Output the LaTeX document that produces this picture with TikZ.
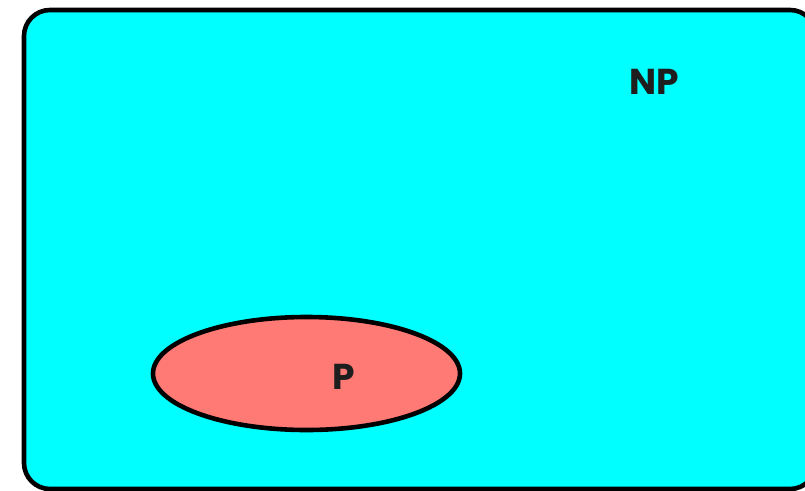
\documentclass[tikz,border=0pt]{standalone}
\usepackage{fontspec}
\usetikzlibrary{shapes.geometric}
\setmainfont{Poppins}
\definecolor{boxfill}{HTML}{00FFFF}
\definecolor{pfill}{HTML}{FF7A75}
\definecolor{txt}{HTML}{1E1E1E}
\tikzset{
  shapeline/.style={draw=black, line width=4.6pt},
  lbl/.style={text=txt, font=\fontsize{36}{38}\selectfont\bfseries, inner sep=0pt}
}
\begin{document}
\begin{tikzpicture}[x=1pt,y=-1pt]
\useasboundingbox (0,0) rectangle (805,490);
\draw[shapeline, fill=boxfill, rounded corners=26pt] (24,10) rectangle (816,489);
\node[shapeline, fill=pfill, ellipse, minimum width=307pt, minimum height=113pt, inner sep=0pt] (p) at (306.5,373.5) {};
\node[lbl] (nplabel) at (654,82) {NP};
\node[lbl] (plabel) at (344,377) {P};
\end{tikzpicture}
\end{document}
